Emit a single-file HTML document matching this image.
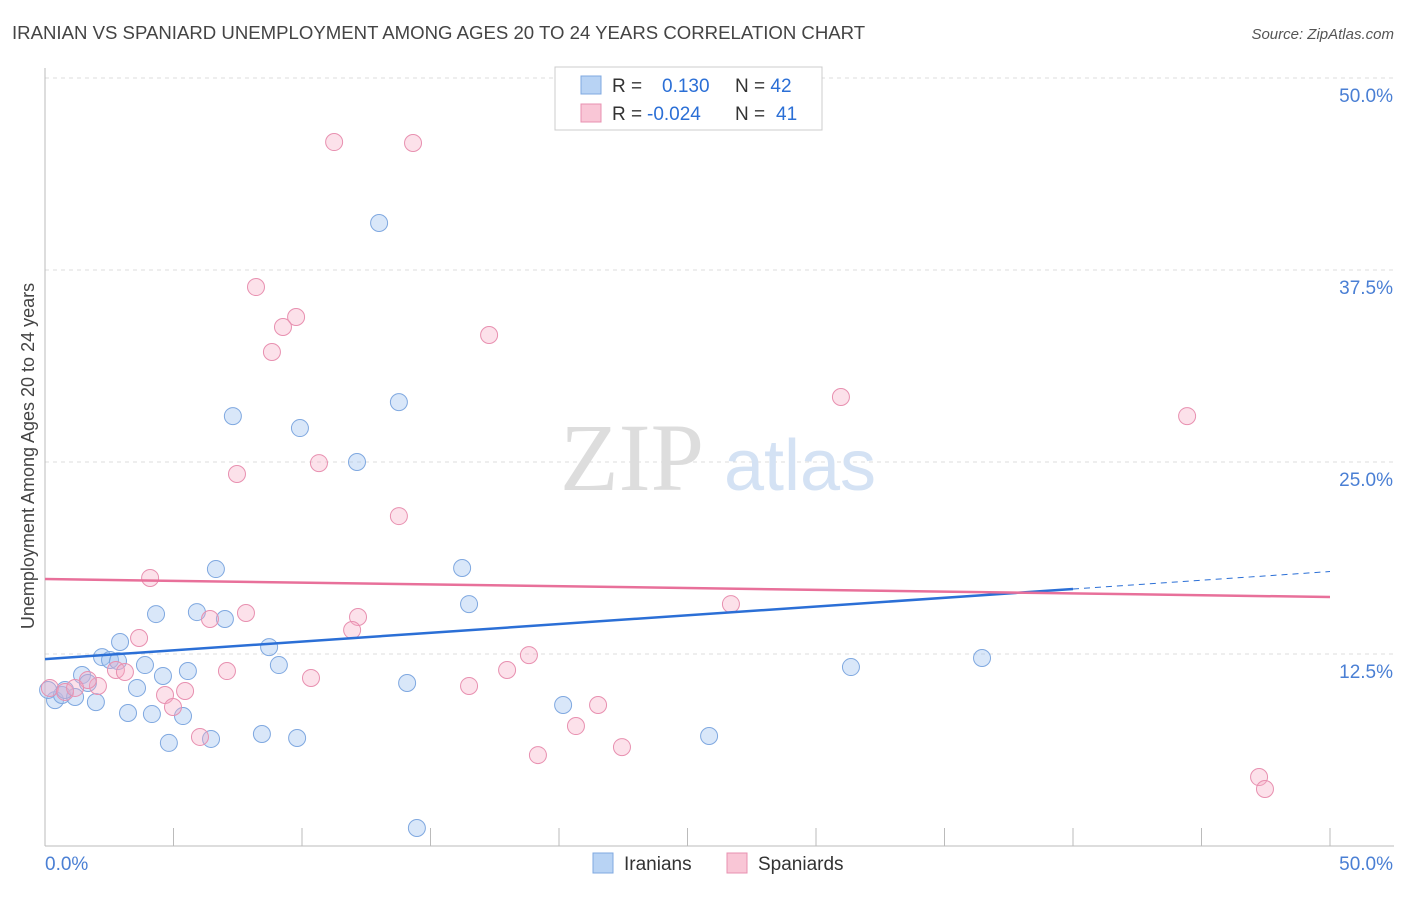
<!DOCTYPE html>
<html><head><meta charset="utf-8"><style>
body{margin:0;background:#fff;font-family:"Liberation Sans",sans-serif}
</style></head><body>
<svg id="chart" width="1406" height="892" xmlns="http://www.w3.org/2000/svg" style="font-family:'Liberation Sans',sans-serif">
<text x="12" y="39" font-size="18.6" fill="#444">IRANIAN VS SPANIARD UNEMPLOYMENT AMONG AGES 20 TO 24 YEARS CORRELATION CHART</text>
<text x="1394" y="39" font-size="15" fill="#555" text-anchor="end" font-style="italic">Source: ZipAtlas.com</text>
<g id="grid"></g>
<g>
<text x="632" y="490" font-size="96" fill="#ddd" text-anchor="middle" font-family="Liberation Serif,serif">ZIP</text>
<text x="800" y="490" font-size="72" fill="#d4e2f4" text-anchor="middle">atlas</text>
</g>
<g id="points"></g>
<g id="lines"></g>
<text transform="translate(34,456) rotate(-90)" font-size="18" fill="#444" text-anchor="middle">Unemployment Among Ages 20 to 24 years</text>
<g>
<rect x="555" y="67" width="267" height="63" fill="#fff" stroke="#ccc"/>
<rect x="581" y="76" width="20" height="18" fill="#b8d3f4" stroke="#7fa8e0"/>
<rect x="581" y="104" width="20" height="18" fill="#f9c6d6" stroke="#e890b0"/>
<text x="612" y="92" font-size="19" fill="#333">R = <tspan fill="#2b6fd6" x="662">0.130</tspan><tspan x="735" fill="#333">N = </tspan><tspan fill="#2b6fd6">42</tspan></text>
<text x="612" y="120" font-size="19" fill="#333">R = <tspan fill="#2b6fd6" x="647">-0.024</tspan><tspan x="735" fill="#333">N = </tspan><tspan fill="#2b6fd6" x="776">41</tspan></text>
</g>
<g>
<rect x="593" y="853" width="20" height="20" fill="#b8d3f4" stroke="#7fa8e0"/>
<text x="624" y="870" font-size="19" fill="#333">Iranians</text>
<rect x="727" y="853" width="20" height="20" fill="#f9c6d6" stroke="#e890b0"/>
<text x="758" y="870" font-size="19" fill="#333">Spaniards</text>
</g>
</svg>
<script>
const xTicks=[0,5,10,15,20,25,30,35,40,45,50];
const yTicks=[12.5,25,37.5,50];
const yTickLabels=["12.5%","25.0%","37.5%","50.0%"];
const iranX=[0.39,0.66,1.17,1.98,1.44,1.67,2.22,2.53,2.84,2.92,3.23,3.58,3.89,4.16,4.32,4.59,4.82,5.37,5.56,5.91,6.46,6.65,7.0,7.31,8.44,8.72,9.1,9.81,9.92,12.14,13.0,13.77,14.09,14.47,16.23,16.5,20.16,25.84,31.36,36.46,0.12,0.78];
const iranY=[9.5,9.83,9.7,9.37,11.13,10.61,12.3,12.11,12.04,13.28,8.66,10.29,11.78,8.59,15.1,11.07,6.71,8.46,11.39,15.23,6.97,18.03,14.78,27.99,7.29,12.95,11.78,7.03,27.21,25.0,40.56,28.9,10.61,1.17,18.1,15.75,9.18,7.16,11.65,12.24,10.16,10.16];
const spanX=[11.25,14.32,8.21,9.77,9.26,8.83,17.28,30.97,44.44,10.66,7.47,13.77,4.09,6.42,7.82,12.18,11.95,3.66,2.76,3.11,7.08,10.35,18.83,17.98,16.5,26.69,21.52,20.66,22.45,19.18,5.45,4.67,4.98,6.03,2.06,1.67,0.19,47.24,47.47,0.78,1.17];
const spanY=[45.83,45.77,36.39,34.44,33.79,32.16,33.27,29.23,27.99,24.93,24.22,21.48,17.45,14.78,15.17,14.91,14.06,13.54,11.46,11.33,11.39,10.94,12.43,11.46,10.42,15.75,9.18,7.81,6.44,5.92,10.09,9.83,9.05,7.1,10.42,10.81,10.29,4.49,3.71,10.03,10.29];
const iranFit=[12.17,0.114];
const spanFit=[17.38,-0.0234];
const NS="http://www.w3.org/2000/svg";
const X=v=>45+v/50*1285, Y=v=>846-v/12.5*192;
function mk(t,a,p){const e=document.createElementNS(NS,t);for(const k in a)e.setAttribute(k,a[k]);p.appendChild(e);return e;}
const grid=document.getElementById('grid');
yTicks.forEach((t,i)=>{
 const l=mk('line',{x1:45,x2:1394,y1:Y(t),y2:Y(t),stroke:'#ddd','stroke-dasharray':'4,4'},grid);
 
 
 const tx=mk('text',{x:1393,y:Y(t)+24,'font-size':19,fill:'#4a7fd4','text-anchor':'end'},grid);
 tx.textContent=yTickLabels[i];
 
 
});
const ax=mk('line',{x1:45,x2:1394,y1:846,y2:846,stroke:'#bbb'},grid);


const ay=mk('line',{x1:45,x2:45,y1:68,y2:846,stroke:'#bbb'},grid);


xTicks.forEach(t=>{
 const l=mk('line',{x1:X(t),x2:X(t),y1:828,y2:846,stroke:'#bbb'},grid);
 
 
});
[[0,'0.0%','start',45],[50,'50.0%','end',1393]].forEach(d=>{
 const tx=mk('text',{x:d[3],y:870,'font-size':19,fill:'#4a7fd4','text-anchor':d[2]},grid);
 tx.textContent=d[1];
 
 
});
const pts=document.getElementById('points');
iranX.forEach((x,i)=>{
 const c=mk('circle',{cx:X(x),cy:Y(iranY[i]),r:8.5,fill:'rgba(160,196,240,0.4)',stroke:'#7fa8e0','stroke-width':1},pts);
 
 
});
spanX.forEach((x,i)=>{
 const c=mk('circle',{cx:X(x),cy:Y(spanY[i]),r:8.5,fill:'rgba(245,170,195,0.35)',stroke:'#e890b0','stroke-width':1},pts);
 
 
});
const ln=document.getElementById('lines');
const b1=mk('line',{x1:X(0),y1:Y(iranFit[0]),x2:X(40),y2:Y(iranFit[0]+iranFit[1]*40),stroke:'#2b6fd6','stroke-width':2.5},ln);


const b2=mk('line',{x1:X(40),y1:Y(iranFit[0]+iranFit[1]*40),x2:X(50),y2:Y(iranFit[0]+iranFit[1]*50),stroke:'#2b6fd6','stroke-width':1,'stroke-dasharray':'6,5'},ln);


const p1=mk('line',{x1:X(0),y1:Y(spanFit[0]),x2:X(50),y2:Y(spanFit[0]+spanFit[1]*50),stroke:'#e8709a','stroke-width':2.5},ln);


</script>
</body></html>
